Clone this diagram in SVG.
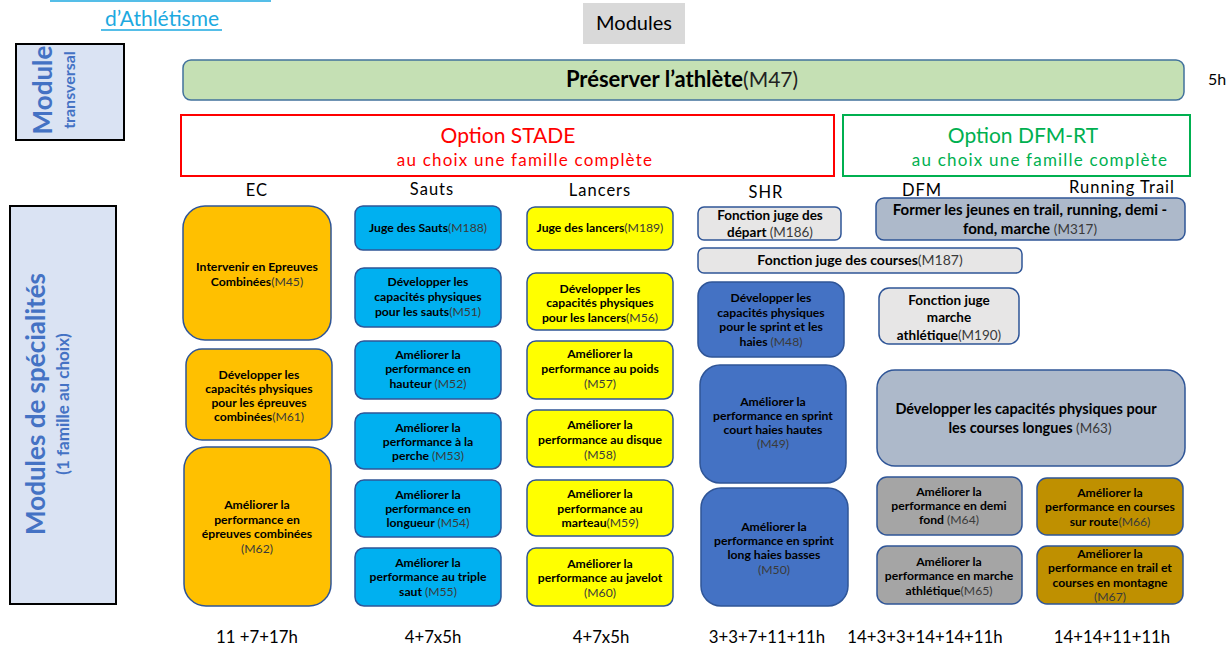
<svg xmlns="http://www.w3.org/2000/svg" width="1228" height="646" viewBox="0 0 1228 646">
<style>
text{font-family:Lato,"Liberation Sans",sans-serif}
.b{stroke:#2f5597;stroke-width:1.5}
.t{font-size:12.2px;font-weight:bold;text-anchor:middle;fill:#000}
.t12{font-size:13.5px}
.t13{font-size:14.5px}
.t15{font-size:15px}
.t14{font-size:14px}
.c{font-weight:normal;fill:#3a3a3a}
.ec{fill:#ffc000}
.sa{fill:#00b0f0}
.la{fill:#ffff00}
.sh{fill:#4472c4}
.gr{fill:#e7e6e6}
.df{fill:#adb9ca}
.dg{fill:#a5a5a5}
.tr{fill:#bf9000}
.hd{font-size:16.5px;text-anchor:middle;fill:#000;letter-spacing:1px}
.ft{font-size:16.8px;text-anchor:middle;fill:#000}
.side{fill:#4472c4;font-weight:bold;text-anchor:middle}
</style>
<rect width="1228" height="646" fill="#fff"/>
<g id="title">
<line x1="50" y1="1" x2="271" y2="1" stroke="#1ca9e0" stroke-width="1.5"/>
<text x="162" y="26" font-size="21" fill="#1ca9e0" text-anchor="middle">d’Athlétisme</text>
<line x1="101" y1="30" x2="222" y2="30" stroke="#1ca9e0" stroke-width="1.5"/>
</g>
<g id="modules-header">
<rect x="583" y="3" width="102" height="41" fill="#d9d9d9"/>
<text x="634" y="30" font-size="20" text-anchor="middle" fill="#000">Modules</text>
</g>
<g id="side-transversal">
<rect x="16" y="44" width="108" height="96" fill="#dae3f3" stroke="#000" stroke-width="2"/>
<text class="side" transform="translate(52,90) rotate(-90)" font-size="26">Module</text>
<text class="side" transform="translate(75,90) rotate(-90)" font-size="16">transversal</text>
</g>
<g id="side-specialites">
<rect x="10" y="206" width="106" height="398" fill="#dae3f3" stroke="#000" stroke-width="2"/>
<text class="side" transform="translate(45,404) rotate(-90)" font-size="26">Modules de spécialités</text>
<text class="side" transform="translate(69,404) rotate(-90)" font-size="17">(1 famille au choix)</text>
</g>
<g id="M47">
<rect x="183" y="60" width="1001" height="40" rx="8" fill="#c5e0b4" stroke="#41719c" stroke-width="1.5"/>
<text x="682" y="87" font-size="22" text-anchor="middle" fill="#000"><tspan font-weight="bold">Préserver l’athlète</tspan><tspan font-size="21" fill="#222">(M47)</tspan></text>
<text x="1217" y="85" font-size="16" text-anchor="middle" fill="#000">5h</text>
</g>
<g id="option-stade">
<rect x="181" y="115" width="653" height="61" fill="none" stroke="#ff0000" stroke-width="2"/>
<text x="508" y="143" font-size="21" text-anchor="middle" fill="#ff0000">Option STADE</text>
<text x="525" y="166" font-size="17" text-anchor="middle" fill="#ff0000" letter-spacing="1.2">au choix une famille complète</text>
</g>
<g id="option-dfm">
<rect x="843" y="115" width="347" height="61" fill="none" stroke="#00b050" stroke-width="2"/>
<text x="1023" y="143" font-size="21" text-anchor="middle" fill="#00b050">Option DFM-RT</text>
<text x="1040" y="166" font-size="17" text-anchor="middle" fill="#00b050" letter-spacing="1.2">au choix une famille complète</text>
</g>
<g id="headers">
<text class="hd" x="257" y="196">EC</text>
<text class="hd" x="432" y="195">Sauts</text>
<text class="hd" x="600" y="196">Lancers</text>
<text class="hd" x="766" y="198">SHR</text>
<text class="hd" x="922" y="196">DFM</text>
<text class="hd" x="1122" y="193" letter-spacing="1.6">Running Trail</text>
</g>
<g id="connectors"></g>
<g id="M45"><rect class="b ec" x="183" y="206" width="148" height="134" rx="22"/>
<text class="t" x="257" y="271">Intervenir en Epreuves</text>
<text class="t" x="257" y="286">Combinées<tspan class="c">(M45)</tspan></text></g>
<g id="M61"><rect class="b ec" x="186" y="349" width="146" height="91" rx="16"/>
<text class="t" x="259" y="379">Développer les</text>
<text class="t" x="259" y="393">capacités physiques</text>
<text class="t" x="259" y="407">pour les épreuves</text>
<text class="t" x="259" y="421">combinées<tspan class="c">(M61)</tspan></text></g>
<g id="M62"><rect class="b ec" x="184" y="447" width="147" height="159" rx="22"/>
<text class="t" x="257" y="509">Améliorer la</text>
<text class="t" x="257" y="524">performance en</text>
<text class="t" x="257" y="538">épreuves combinées</text>
<text class="t" x="257" y="553"><tspan class="c">(M62)</tspan></text></g>
<g id="M188"><rect class="b sa" x="355" y="206" width="146" height="44" rx="8"/>
<text class="t" x="428" y="232">Juge des Sauts<tspan class="c">(M188)</tspan></text></g>
<g id="M51"><rect class="b sa" x="355" y="268" width="146" height="59" rx="9"/>
<text class="t" x="428" y="286">Développer les</text>
<text class="t" x="428" y="301">capacités physiques</text>
<text class="t" x="428" y="316">pour les sauts<tspan class="c">(M51)</tspan></text></g>
<g id="M52"><rect class="b sa" x="355" y="341" width="146" height="58" rx="9"/>
<text class="t" x="428" y="359">Améliorer la</text>
<text class="t" x="428" y="373">performance en</text>
<text class="t" x="428" y="388">hauteur <tspan class="c">(M52)</tspan></text></g>
<g id="M53"><rect class="b sa" x="355" y="413" width="146" height="56" rx="9"/>
<text class="t" x="428" y="432">Améliorer la</text>
<text class="t" x="428" y="446">performance à la</text>
<text class="t" x="428" y="460">perche <tspan class="c">(M53)</tspan></text></g>
<g id="M54"><rect class="b sa" x="355" y="480" width="146" height="57" rx="9"/>
<text class="t" x="428" y="499">Améliorer la</text>
<text class="t" x="428" y="513">performance en</text>
<text class="t" x="428" y="527">longueur <tspan class="c">(M54)</tspan></text></g>
<g id="M55"><rect class="b sa" x="355" y="548" width="146" height="58" rx="9"/>
<text class="t" x="428" y="567">Améliorer la</text>
<text class="t" x="428" y="581">performance au triple</text>
<text class="t" x="428" y="596">saut <tspan class="c">(M55)</tspan></text></g>
<g id="M189"><rect class="b la" x="527" y="207" width="146" height="43" rx="8"/>
<text class="t" x="600" y="232">Juge des lancers<tspan class="c">(M189)</tspan></text></g>
<g id="M56"><rect class="b la" x="527" y="273" width="146" height="57" rx="9"/>
<text class="t" x="600" y="293">Développer les</text>
<text class="t" x="600" y="307">capacités physiques</text>
<text class="t" x="600" y="322">pour les lancers<tspan class="c">(M56)</tspan></text></g>
<g id="M57"><rect class="b la" x="527" y="341" width="146" height="58" rx="9"/>
<text class="t" x="600" y="358">Améliorer la</text>
<text class="t" x="600" y="373">performance au poids</text>
<text class="t" x="600" y="388"><tspan class="c">(M57)</tspan></text></g>
<g id="M58"><rect class="b la" x="527" y="410" width="146" height="57" rx="9"/>
<text class="t" x="600" y="429">Améliorer la</text>
<text class="t" x="600" y="444">performance au disque</text>
<text class="t" x="600" y="459"><tspan class="c">(M58)</tspan></text></g>
<g id="M59"><rect class="b la" x="527" y="480" width="146" height="56" rx="9"/>
<text class="t" x="600" y="498">Améliorer la</text>
<text class="t" x="600" y="513">performance au</text>
<text class="t" x="600" y="527">marteau<tspan class="c">(M59)</tspan></text></g>
<g id="M60"><rect class="b la" x="527" y="548" width="146" height="58" rx="9"/>
<text class="t" x="600" y="568">Améliorer la</text>
<text class="t" x="600" y="582">performance au javelot</text>
<text class="t" x="600" y="597"><tspan class="c">(M60)</tspan></text></g>
<g id="M186"><rect class="b gr" x="698" y="207" width="143" height="33" rx="6"/>
<text class="t t12" x="770" y="220">Fonction juge des</text>
<text class="t t12" x="770" y="237">départ <tspan class="c">(M186)</tspan></text></g>
<g id="M187"><rect class="b gr" x="698" y="248" width="324" height="25" rx="6"/>
<text class="t t14" x="860" y="265">Fonction juge des courses<tspan class="c">(M187)</tspan></text></g>
<g id="M48"><rect class="b sh" x="698" y="282" width="146" height="75" rx="14"/>
<text class="t" x="771" y="302">Développer les</text>
<text class="t" x="771" y="317">capacités physiques</text>
<text class="t" x="771" y="331">pour le sprint et les</text>
<text class="t" x="771" y="346">haies <tspan class="c">(M48)</tspan></text></g>
<g id="M49"><rect class="b sh" x="700" y="365" width="146" height="118" rx="20"/>
<text class="t" x="773" y="406">Améliorer la</text>
<text class="t" x="773" y="420">performance en sprint</text>
<text class="t" x="773" y="434">court haies hautes</text>
<text class="t" x="773" y="448"><tspan class="c">(M49)</tspan></text></g>
<g id="M50"><rect class="b sh" x="701" y="488" width="147" height="118" rx="20"/>
<text class="t" x="774" y="531">Améliorer la</text>
<text class="t" x="774" y="545">performance en sprint</text>
<text class="t" x="774" y="559">long haies basses</text>
<text class="t" x="774" y="574"><tspan class="c">(M50)</tspan></text></g>
<g id="M317"><rect class="b df" x="876" y="198" width="309" height="42" rx="8"/>
<text class="t t15" x="1030" y="215">Former les jeunes en trail, running, demi  -</text>
<text class="t t15" x="1030" y="234">fond, marche <tspan class="c" font-size="13.5">(M317)</tspan></text></g>
<g id="M190"><rect class="b gr" x="879" y="288" width="140" height="56" rx="10"/>
<text class="t t12" x="949" y="305">Fonction juge</text>
<text class="t t12" x="949" y="322">marche</text>
<text class="t t12" x="949" y="340">athlétique<tspan class="c">(M190)</tspan></text></g>
<g id="M63"><rect class="b df" x="877" y="370" width="308" height="96" rx="18"/>
<text class="t t13" x="1026" y="414">Développer les capacités physiques pour</text>
<text class="t t13" x="1030" y="433">les courses longues  <tspan class="c" font-size="13.5">(M63)</tspan></text></g>
<g id="M64"><rect class="b dg" x="877" y="477" width="145" height="58" rx="10"/>
<text class="t" x="949" y="496">Améliorer la</text>
<text class="t" x="949" y="510">performance en demi</text>
<text class="t" x="949" y="524">fond <tspan class="c">(M64)</tspan></text></g>
<g id="M65"><rect class="b dg" x="877" y="546" width="145" height="58" rx="10"/>
<text class="t" x="949" y="566">Améliorer la</text>
<text class="t" x="949" y="580">performance en marche</text>
<text class="t" x="949" y="595">athlétique<tspan class="c">(M65)</tspan></text></g>
<g id="M66"><rect class="b tr" x="1037" y="478" width="146" height="57" rx="10"/>
<text class="t" x="1110" y="497">Améliorer la</text>
<text class="t" x="1110" y="511">performance en courses</text>
<text class="t" x="1110" y="526">sur route<tspan class="c">(M66)</tspan></text></g>
<g id="M67"><rect class="b tr" x="1037" y="546" width="146" height="58" rx="10"/>
<text class="t" x="1110" y="558">Améliorer la</text>
<text class="t" x="1110" y="572">performance en trail et</text>
<text class="t" x="1110" y="587">courses en montagne</text>
<text class="t" x="1110" y="601"><tspan class="c">(M67)</tspan></text></g>
<g id="totals">
<text class="ft" x="257" y="643">11 +7+17h</text>
<text class="ft" x="433" y="643">4+7x5h</text>
<text class="ft" x="601" y="643">4+7x5h</text>
<text class="ft" x="767" y="643">3+3+7+11+11h</text>
<text class="ft" x="925" y="643">14+3+3+14+14+11h</text>
<text class="ft" x="1112" y="643">14+14+11+11h</text>
</g>
</svg>
